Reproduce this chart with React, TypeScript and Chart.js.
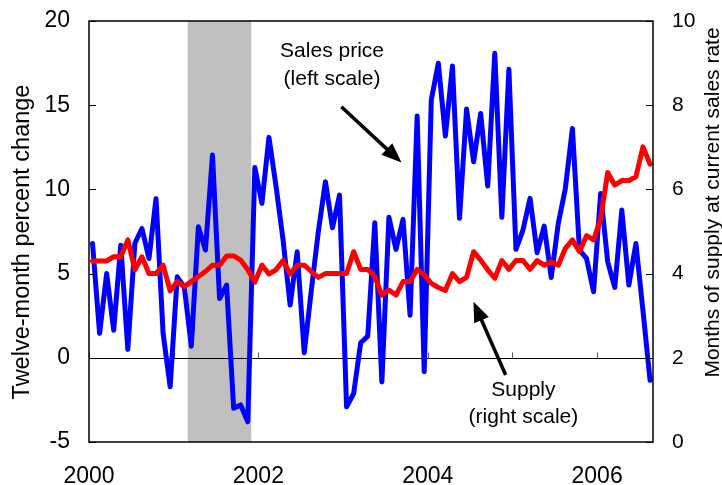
import React, { useEffect, useRef } from "react";
import { Chart, registerables } from "chart.js";

Chart.register(...registerables);

// ---- data ----
const START_YEAR = 2000; // first month = Jan 2000, monthly observations
const salesPrice = [
  6.79, 1.45, 5.0, 1.64, 6.69, 0.5, 6.8, 7.68, 5.9, 9.45, 1.45, -1.72,
  4.81, 4.2, 0.69, 7.78, 6.4, 12.04, 3.52, 4.32, -3.0, -2.8, -3.8, 11.3,
  9.17, 13.09, 10.2, 7.0, 3.13, 6.3, 0.3, 4.0, 7.5, 10.46, 7.72, 9.66,
  -2.91, -2.12, 0.89, 1.29, 8.02, -1.43, 8.34, 6.44, 8.22, 2.53, 14.36, -0.83,
  15.3, 17.49, 13.17, 17.33, 8.28, 14.77, 11.64, 14.51, 10.2, 18.08, 8.34, 17.13,
  6.44, 7.6, 9.47, 6.24, 7.82, 4.77, 7.98, 10.06, 13.62, 6.4, 5.9, 3.92,
  9.76, 5.7, 4.18, 8.77, 4.32, 6.79, 2.8, -1.33,
];
const supply = [
  4.3, 4.3, 4.3, 4.4, 4.4, 4.8, 4.09, 4.4, 4.0, 4.0, 4.2, 3.59,
  3.81, 3.69, 3.81, 3.93, 4.05, 4.2, 4.2, 4.42, 4.42, 4.32, 4.09, 3.8,
  4.2, 3.99, 4.09, 4.31, 3.99, 4.2, 4.2, 4.05, 3.91, 4.0, 4.0, 4.0,
  4.0, 4.52, 4.1, 4.1, 3.93, 3.49, 3.61, 3.49, 3.81, 3.81, 4.1, 3.97,
  3.77, 3.67, 3.6, 4.0, 3.81, 3.91, 4.52, 4.32, 4.09, 3.89, 4.31, 4.1,
  4.31, 4.31, 4.1, 4.31, 4.2, 4.28, 4.2, 4.6, 4.8, 4.52, 4.9, 4.8,
  5.31, 6.4, 6.1, 6.21, 6.21, 6.3, 7.01, 6.6,
];
const xMin = 2000;
const xMax = 2006.66;
const yearTicks = [2000, 2001, 2002, 2003, 2004, 2005, 2006];
const yearLabels = [2000, 2002, 2004, 2006];
const leftTicks = [-5, 0, 5, 10, 15, 20];
const rightTicks = [0, 2, 4, 6, 8, 10];
const recession = [2001 + 2 / 12, 2001 + 11 / 12]; // Mar 2001 – Nov 2001

const leftTitle = "Twelve-month percent change";
const rightTitle = "Months of supply at current sales rate";

const annotations = [
  { lines: ["Sales price", "(left scale)"], x: 2002.87, y: 18.18, axis: "y" },
  { lines: ["Supply", "(right scale)"], x: 2005.13, y: 1.235, axis: "y1" },
];
const arrows = [
  { from: [2002.98, 14.91], to: [2003.69, 11.59], axis: "y" },
  { from: [2004.92, 1.59], to: [2004.54, 3.33], axis: "y1" },
];

const FONT = '"Liberation Sans", Arial, Helvetica, sans-serif';

const toPoints = (arr: number[]) =>
  arr.map((v, i) => ({ x: START_YEAR + (i + 0.5) / 12, y: v }));

const decor = {
  id: "decor",
  beforeDatasetsDraw(chart: any) {
    const { ctx, chartArea: a, scales } = chart;
    const xs = scales.x;
    const yl = scales.y;
    ctx.save();
    // recession shading
    const r0 = xs.getPixelForValue(recession[0]);
    const r1 = xs.getPixelForValue(recession[1]);
    ctx.fillStyle = "#c0c0c0";
    ctx.fillRect(r0, a.top, r1 - r0, a.bottom - a.top);
    // zero line
    const y0 = Math.round(yl.getPixelForValue(0)) + 0.5;
    ctx.strokeStyle = "#000";
    ctx.lineWidth = 1;
    ctx.beginPath();
    ctx.moveTo(a.left, y0);
    ctx.lineTo(a.right, y0);
    ctx.stroke();
    // yearly ticks on zero line
    ctx.strokeStyle = "#555";
    for (const yr of yearTicks) {
      const xp = Math.round(xs.getPixelForValue(yr)) + 0.5;
      ctx.beginPath();
      ctx.moveTo(xp, y0);
      ctx.lineTo(xp, y0 - 6);
      ctx.stroke();
    }
    ctx.restore();
  },
  afterDatasetsDraw(chart: any) {
    const { ctx, chartArea: a, scales } = chart;
    const xs = scales.x;
    ctx.save();
    // frame
    ctx.strokeStyle = "#000";
    ctx.lineWidth = 1.5;
    ctx.strokeRect(a.left, a.top, a.right - a.left, a.bottom - a.top);
    // inward ticks
    ctx.lineWidth = 1;
    for (const v of leftTicks) {
      const yp = Math.round(scales.y.getPixelForValue(v)) + 0.5;
      ctx.beginPath();
      ctx.moveTo(a.left, yp);
      ctx.lineTo(a.left + 7, yp);
      ctx.stroke();
    }
    for (const v of rightTicks) {
      const yp = Math.round(scales.y1.getPixelForValue(v)) + 0.5;
      ctx.beginPath();
      ctx.moveTo(a.right, yp);
      ctx.lineTo(a.right - 7, yp);
      ctx.stroke();
    }
    // annotations
    ctx.fillStyle = "#000";
    ctx.font = `21px ${FONT}`;
    ctx.textAlign = "center";
    ctx.textBaseline = "middle";
    for (const an of annotations) {
      const xp = xs.getPixelForValue(an.x);
      const yp = scales[an.axis].getPixelForValue(an.y);
      an.lines.forEach((t, k) => ctx.fillText(t, xp, yp + k * 27.5));
    }
    // arrows
    for (const ar of arrows) {
      const sy = scales[ar.axis];
      const x1 = xs.getPixelForValue(ar.from[0]);
      const y1 = sy.getPixelForValue(ar.from[1]);
      const x2 = xs.getPixelForValue(ar.to[0]);
      const y2 = sy.getPixelForValue(ar.to[1]);
      const ang = Math.atan2(y2 - y1, x2 - x1);
      const hl = 20;
      const hw = 8;
      const bx = x2 - hl * Math.cos(ang);
      const by = y2 - hl * Math.sin(ang);
      ctx.strokeStyle = "#000";
      ctx.lineWidth = 3.5;
      ctx.beginPath();
      ctx.moveTo(x1, y1);
      ctx.lineTo(bx + 2 * Math.cos(ang), by + 2 * Math.sin(ang));
      ctx.stroke();
      ctx.beginPath();
      ctx.moveTo(x2, y2);
      ctx.lineTo(bx + hw * Math.sin(ang), by - hw * Math.cos(ang));
      ctx.lineTo(bx - hw * Math.sin(ang), by + hw * Math.cos(ang));
      ctx.closePath();
      ctx.fill();
    }
    ctx.restore();
  },
  afterDraw(chart: any) {
    const { ctx } = chart;
    ctx.save();
    ctx.fillStyle = "#000";
    ctx.textAlign = "center";
    ctx.textBaseline = "alphabetic";
    ctx.font = `23.5px ${FONT}`;
    ctx.translate(28.5, 242);
    ctx.rotate(-Math.PI / 2);
    ctx.fillText(leftTitle, 0, 0);
    ctx.restore();
    ctx.save();
    ctx.fillStyle = "#000";
    ctx.textAlign = "center";
    ctx.textBaseline = "alphabetic";
    ctx.font = `21px ${FONT}`;
    ctx.translate(718.5, 202.5);
    ctx.rotate(-Math.PI / 2);
    ctx.fillText(rightTitle, 0, 0);
    ctx.restore();
  },
};

const noPadV = (s: any) => {
  s.paddingTop = 0;
  s.paddingBottom = 0;
};

export default function App() {
  const ref = useRef<HTMLCanvasElement | null>(null);
  useEffect(() => {
    if (!ref.current) return;
    const chart = new Chart(ref.current, {
      type: "line",
      data: {
        datasets: [
          {
            label: "Supply (right scale)",
            data: toPoints(supply),
            yAxisID: "y1",
            borderColor: "#ff0000",
            borderWidth: 5,
            pointRadius: 0,
            tension: 0,
            borderJoinStyle: "round",
            borderCapStyle: "round",
            order: 0,
          },
          {
            label: "Sales price (left scale)",
            data: toPoints(salesPrice),
            yAxisID: "y",
            borderColor: "#0000ff",
            borderWidth: 5,
            pointRadius: 0,
            tension: 0,
            borderJoinStyle: "round",
            borderCapStyle: "round",
            order: 1,
          },
        ],
      },
      options: {
        responsive: false,
        animation: false,
        devicePixelRatio: 1,
        layout: { padding: { top: 21, left: 0, right: 0, bottom: 0 } },
        plugins: { legend: { display: false }, tooltip: { enabled: false } },
        scales: {
          x: {
            type: "linear",
            min: xMin,
            max: xMax,
            grid: { display: false, drawTicks: false },
            border: { display: false },
            ticks: {
              stepSize: 1,
              includeBounds: false,
              autoSkip: false,
              maxRotation: 0,
              padding: 21,
              color: "#000",
              font: { family: FONT, size: 23 },
              callback: (v: any) => (yearLabels.includes(Number(v)) ? String(v) : ""),
            },
            afterFit: (s: any) => {
              s.height = 43;
              s.paddingLeft = 0;
              s.paddingRight = 0;
            },
          },
          y: {
            position: "left",
            min: -5,
            max: 20,
            grid: { display: false, drawTicks: false },
            border: { display: false },
            ticks: {
              stepSize: 5,
              padding: 19,
              color: "#000",
              font: { family: FONT, size: 23 },
            },
            afterFit: (s: any) => {
              s.width = 89;
              noPadV(s);
            },
          },
          y1: {
            position: "right",
            min: 0,
            max: 10,
            grid: { display: false, drawTicks: false },
            border: { display: false },
            ticks: {
              stepSize: 2,
              padding: 19,
              color: "#000",
              font: { family: FONT, size: 21 },
            },
            afterFit: (s: any) => {
              s.width = 69;
              noPadV(s);
            },
          },
        },
      },
      plugins: [decor],
    } as any);
    return () => chart.destroy();
  }, []);
  return (
    <div style={{ position: "fixed", left: 0, top: 0, width: 722, height: 485 }}>
      <canvas ref={ref} width={722} height={485} style={{ display: "block" }} />
    </div>
  );
}
